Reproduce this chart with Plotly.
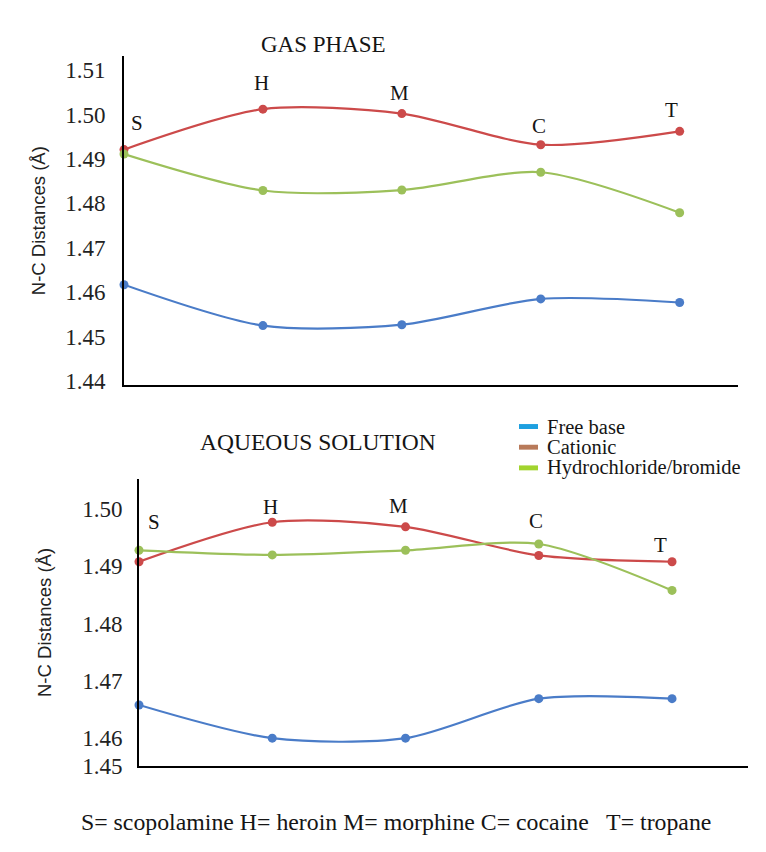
import plotly.graph_objects as go

# ---------------- data ----------------
compounds = ["S", "H", "M", "C", "T"]
series_names = ["Free base", "Cationic", "Hydrochloride/bromide"]

gas_free_base = [1.4617, 1.4525, 1.4527, 1.4585, 1.4577]
gas_cationic = [1.4921, 1.5012, 1.5002, 1.4932, 1.4962]
gas_hydro = [1.4911, 1.4829, 1.4830, 1.4870, 1.4779]

aq_free_base = [1.4658, 1.4600, 1.4600, 1.4669, 1.4669]
aq_cationic = [1.4908, 1.4977, 1.4969, 1.4919, 1.4908]
aq_hydro = [1.4928, 1.4920, 1.4928, 1.4939, 1.4858]

gas_ticks = [1.44, 1.45, 1.46, 1.47, 1.48, 1.49, 1.50, 1.51]
gas_ticktext = ["1.44", "1.45", "1.46", "1.47", "1.48", "1.49", "1.50", "1.51"]
aq_ticks = [1.4551, 1.46, 1.47, 1.48, 1.49, 1.50]
aq_ticktext = ["1.45", "1.46", "1.47", "1.48", "1.49", "1.50"]

# ---------------- style ----------------
line_colors = ["#4a7cc8", "#cc4a4a", "#9cc05a"]
legend_colors = ["#1ea0e0", "#b87a5a", "#a2d42e"]
SERIF = "Liberation Serif, Times New Roman, serif"
SANS = "Liberation Sans, Arial, sans-serif"
TXT = "#151515"

idx = list(range(len(compounds)))

fig = go.Figure()

gas = [gas_free_base, gas_cationic, gas_hydro]
aq = [aq_free_base, aq_cationic, aq_hydro]

for name, vals, col in zip(series_names, gas, line_colors):
    fig.add_trace(go.Scatter(x=idx, y=vals, mode="lines+markers", name=name,
                             line=dict(color=col, width=2.2, shape="spline", smoothing=0.8),
                             marker=dict(color=col, size=9), showlegend=False, cliponaxis=False,
                             xaxis="x", yaxis="y"))
for name, vals, col in zip(series_names, aq, line_colors):
    fig.add_trace(go.Scatter(x=idx, y=vals, mode="lines+markers", name=name,
                             line=dict(color=col, width=2.2, shape="spline", smoothing=0.8),
                             marker=dict(color=col, size=9), showlegend=False, cliponaxis=False,
                             xaxis="x2", yaxis="y2"))

# compound label positions (x index, y value)
gas_lbl_x = [0.09, 0.99, 1.98, 2.99, 3.94]
gas_lbl_y = [1.4980, 1.5071, 1.5049, 1.4974, 1.5009]
aq_lbl_x = [0.11, 0.99, 1.95, 2.98, 3.91]
aq_lbl_y = [1.4977, 1.5003, 1.5005, 1.4979, 1.4937]

annotations = []
for c, xx, yy in zip(compounds, gas_lbl_x, gas_lbl_y):
    annotations.append(dict(x=xx, y=yy, xref="x", yref="y", text=c, showarrow=False,
                            font=dict(family=SERIF, size=21, color=TXT)))
for c, xx, yy in zip(compounds, aq_lbl_x, aq_lbl_y):
    annotations.append(dict(x=xx, y=yy, xref="x2", yref="y2", text=c, showarrow=False,
                            font=dict(family=SERIF, size=21, color=TXT)))

annotations += [
    dict(x=251/766, y=1-22/852, xref="paper", yref="paper", text="GAS PHASE", showarrow=False,
         font=dict(family=SERIF, size=23, color=TXT)),
    dict(x=310/766, y=1-441/852, xref="paper", yref="paper", text="AQUEOUS SOLUTION", showarrow=False,
         font=dict(family=SERIF, size=23.5, color=TXT)),
    dict(x=388/766, y=1-842/852, xref="paper", yref="paper",
         text="S= scopolamine H= heroin M= morphine C= cocaine   T= tropane", showarrow=False,
         font=dict(family=SERIF, size=23.8, color=TXT)),
]

# manual legend (swatch + text)
legend_rows_y = [425, 446, 467]
shapes = []
for name, col, ry in zip(series_names, legend_colors, legend_rows_y):
    shapes.append(dict(type="rect", xref="paper", yref="paper", x0=511/766, x1=530/766,
                       y0=1-(ry+2.5)/852, y1=1-(ry-2.5)/852, fillcolor=col, line=dict(width=0)))
    annotations.append(dict(x=537/766, y=1-ry/852, xref="paper", yref="paper", text=name,
                            showarrow=False, xanchor="left", yanchor="middle",
                            font=dict(family=SERIF, size=20.5, color=TXT)))

axis_common = dict(showgrid=False, zeroline=False, showline=True, linecolor="black", linewidth=2)

fig.update_layout(
    width=766, height=852,
    margin=dict(l=0, r=0, t=0, b=0),
    paper_bgcolor="white", plot_bgcolor="white",
    showlegend=False,
    xaxis=dict(domain=[116/766, 730/766], range=[0, 4.42], showticklabels=False, ticks="",
               anchor="y", **axis_common),
    yaxis=dict(domain=[1-383/852, 1-49/852], range=[1.4391, 1.5131], tickvals=gas_ticks,
               ticktext=gas_ticktext, ticks="", ticklabelstandoff=12, anchor="x",
               tickfont=dict(family=SERIF, size=23, color="#222"),
               title=dict(text="N-C Distances (Å)", font=dict(family=SANS, size=18.5, color="#222"), standoff=15),
               **axis_common),
    xaxis2=dict(domain=[131/766, 740/766], range=[0, 4.57], showticklabels=False, ticks="",
                anchor="y2", **axis_common),
    yaxis2=dict(domain=[1-770/852, 1-478/852], range=[1.4551, 1.5053], tickvals=aq_ticks,
                ticktext=aq_ticktext, ticks="", ticklabelstandoff=10, anchor="x2",
                tickfont=dict(family=SERIF, size=23, color="#222"),
                title=dict(text="N-C Distances (Å)", font=dict(family=SANS, size=18.5, color="#222"), standoff=26),
                **axis_common),
    annotations=annotations,
    shapes=shapes,
)

fig.write_html("out.html")
